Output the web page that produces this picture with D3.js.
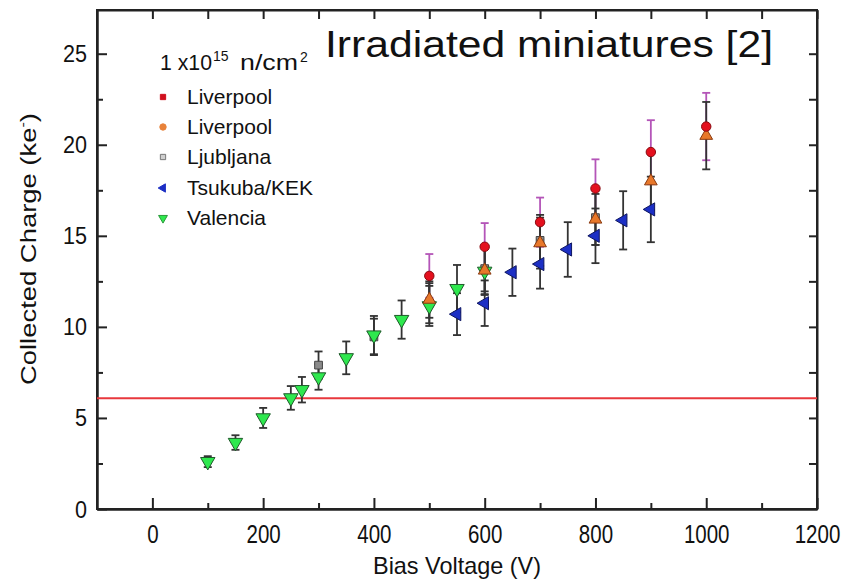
<!DOCTYPE html>
<html>
<head>
<meta charset="utf-8">
<script src="https://cdn.jsdelivr.net/npm/d3@7"></script>
<style>
  html, body { margin: 0; padding: 0; background: #fff; }
  svg { display: block; }
  text { font-family: "Liberation Sans", Arial, sans-serif; fill: #111; }
</style>
</head>
<body>
<svg id="chart" width="846" height="581"></svg>
<script>
// ---- Data ----
const xMajorTicks = [0, 200, 400, 600, 800, 1000, 1200];
const xMinorTicks = [100, 300, 500, 700, 900, 1100];
const yMajorTicks = [0, 5, 10, 15, 20, 25];
const yMinorTicks = [2.5, 7.5, 12.5, 17.5, 22.5];
const thresholdCharge = 6.08;

// Valencia (green, down triangles)
const valenciaV   = [100, 150, 200, 250, 270, 300, 350, 400, 450, 500, 550, 600];
const valenciaQ   = [2.6, 3.65, 5.0, 6.1, 6.55, 7.25, 8.3, 9.55, 10.4, 11.15, 12.1, 13.05];
const valenciaErr = [0.3, 0.4, 0.55, 0.65, 0.7, 0.7, 0.9, 1.05, 1.05, 1.1, 1.3, 1.3];

// Ljubljana (grey squares)
const ljubljanaV   = [300, 400, 500, 600, 700, 800];
const ljubljanaQ   = [7.9, 9.45, 11.3, 13.2, 14.75, 16.0];
const ljubljanaErr = [0.75, 1.0, 1.1, 1.25, 1.4, 1.5];

// Tsukuba/KEK (blue, left triangles)
const tsukubaV   = [550, 600, 650, 700, 750, 800, 850, 900];
const tsukubaQ   = [10.7, 11.3, 13.0, 13.45, 14.25, 15.0, 15.85, 16.45];
const tsukubaErr = [1.15, 1.25, 1.3, 1.35, 1.5, 1.5, 1.6, 1.8];

// Liverpool (orange)
const liverpoolOV   = [500, 600, 700, 800, 900, 1000];
const liverpoolOQ   = [11.5, 13.1, 14.6, 15.9, 18.0, 20.5];
const liverpoolOErr = [1.0, 1.3, 1.4, 1.4, 1.6, 1.85];

// Liverpool (red, magenta error bars)
const liverpoolRV   = [500, 600, 700, 800, 900, 1000];
const liverpoolRQ   = [12.8, 14.4, 15.75, 17.6, 19.6, 21.0];
const liverpoolRErr = [1.2, 1.3, 1.35, 1.6, 1.75, 1.85];

const legendLabels = ["Liverpool", "Liverpool", "Ljubljana", "Tsukuba/KEK", "Valencia"];

// ---- Layout ----
const svg = d3.select("#chart");
const L = 97, R = 817, T = 10, B = 509;
const x = d3.scaleLinear().domain([-100, 1200]).range([L, R]);
const y = d3.scaleLinear().domain([0, 27.4]).range([B, T]);
const fmt = d3.format("d");

// Axes
const gBottom = svg.append("g").attr("transform", `translate(0,${B})`)
  .call(d3.axisBottom(x).tickValues(xMajorTicks).tickFormat(fmt).tickSizeInner(-11).tickSizeOuter(0));
svg.append("g").attr("transform", `translate(0,${B})`)
  .call(d3.axisBottom(x).tickValues(xMinorTicks).tickSizeInner(-6).tickSizeOuter(0).tickFormat(""));
svg.append("g").attr("transform", `translate(0,${T})`)
  .call(d3.axisTop(x).tickValues(xMajorTicks.concat(xMinorTicks)).tickSizeInner(-9).tickSizeOuter(0).tickFormat(""));
const gLeft = svg.append("g").attr("transform", `translate(${L},0)`)
  .call(d3.axisLeft(y).tickValues(yMajorTicks).tickFormat(fmt).tickSizeInner(-10).tickSizeOuter(0));
svg.append("g").attr("transform", `translate(${L},0)`)
  .call(d3.axisLeft(y).tickValues(yMinorTicks).tickSizeInner(-6).tickSizeOuter(0).tickFormat(""));
svg.append("g").attr("transform", `translate(${R},0)`)
  .call(d3.axisRight(y).tickValues(yMajorTicks.concat(yMinorTicks).filter(v => v > 0)).tickSizeInner(-8).tickSizeOuter(0).tickFormat(""));

svg.selectAll(".domain").attr("stroke", "#222").attr("stroke-width", 2);
svg.selectAll(".tick line").attr("stroke", "#222").attr("stroke-width", 2);

// x tick labels: slightly tall, condensed look (vertical stretch)
gBottom.selectAll(".tick text")
  .attr("y", 34 / 1.25).attr("dy", null)
  .attr("transform", "scale(1,1.25)")
  .attr("font-size", 20.5).attr("fill", "#111")
  .attr("font-family", "Liberation Sans, Arial, sans-serif");
gLeft.selectAll(".tick text")
  .attr("x", -10).attr("y", 8).attr("dy", null)
  .attr("font-size", 23).attr("fill", "#111")
  .attr("font-family", "Liberation Sans, Arial, sans-serif")
  .attr("textLength", d => fmt(d).length * 12)
  .attr("lengthAdjust", "spacingAndGlyphs");

// Frame
svg.append("rect").attr("x", L).attr("y", T).attr("width", R - L).attr("height", B - T)
  .attr("fill", "none").attr("stroke", "#222").attr("stroke-width", 2);

// Threshold line
svg.append("line")
  .attr("x1", x(-100)).attr("x2", x(1200))
  .attr("y1", y(thresholdCharge)).attr("y2", y(thresholdCharge))
  .attr("stroke", "#e8383d").attr("stroke-width", 2);

// ---- Series ----
function seriesData(vs, qs, es) { return vs.map((v, i) => ({ v, q: qs[i], e: es[i] })); }

function drawErrors(data, color) {
  const g = svg.append("g").attr("stroke", color).attr("stroke-width", 1.8).attr("fill", "none");
  data.forEach(d => {
    const cx = x(d.v), y1 = y(d.q + d.e), y2 = y(d.q - d.e);
    g.append("line").attr("x1", cx).attr("x2", cx).attr("y1", y1).attr("y2", y2);
    g.append("line").attr("x1", cx - 4).attr("x2", cx + 4).attr("y1", y1).attr("y2", y1);
    g.append("line").attr("x1", cx - 4).attr("x2", cx + 4).attr("y1", y2).attr("y2", y2);
  });
}

function drawMarkers(data, type, size, rot, fill, stroke) {
  const sym = d3.symbol().type(type).size(size);
  svg.append("g").selectAll("path").data(data).join("path")
    .attr("d", sym)
    .attr("transform", d => `translate(${x(d.v)},${y(d.q)}) rotate(${rot})`)
    .attr("fill", fill).attr("stroke", stroke).attr("stroke-width", 1);
}

const valencia = seriesData(valenciaV, valenciaQ, valenciaErr);
const ljubljana = seriesData(ljubljanaV, ljubljanaQ, ljubljanaErr);
const tsukuba = seriesData(tsukubaV, tsukubaQ, tsukubaErr);
const liverpoolO = seriesData(liverpoolOV, liverpoolOQ, liverpoolOErr);
const liverpoolR = seriesData(liverpoolRV, liverpoolRQ, liverpoolRErr);

drawErrors(liverpoolR, "#b455b8");
drawErrors(valencia, "#333");
drawErrors(ljubljana, "#333");
drawErrors(tsukuba, "#333");
drawErrors(liverpoolO, "#333");

drawMarkers(ljubljana, d3.symbolSquare, 60, 0, "#8a8a8a", "#444");
drawMarkers(valencia, d3.symbolTriangle, 90, 180, "#2ee84e", "#1f5a2a");
drawMarkers(tsukuba, d3.symbolTriangle, 75, -90, "#1c2fc4", "#0e1660");
drawMarkers(liverpoolO, d3.symbolTriangle, 70, 0, "#e8782a", "#8a3a10");
drawMarkers(liverpoolR, d3.symbolCircle, 70, 0, "#e4101e", "#8a0a10");

// ---- Legend ----
const leg = svg.append("g");
leg.append("text").attr("x", 160).attr("y", 70).attr("font-size", 22)
  .attr("textLength", 52).attr("lengthAdjust", "spacingAndGlyphs").text("1 x10");
leg.append("text").attr("x", 213).attr("y", 61).attr("font-size", 14).text("15");
leg.append("text").attr("x", 240).attr("y", 70).attr("font-size", 22)
  .attr("textLength", 58).attr("lengthAdjust", "spacingAndGlyphs").text("n/cm");
leg.append("text").attr("x", 300).attr("y", 62).attr("font-size", 14).text("2");

const legYs = [97, 127, 157, 188, 218];
const legSymbols = [
  { type: d3.symbolSquare, size: 28, rot: 0, fill: "#d0101e", stroke: "#d0101e" },
  { type: d3.symbolCircle, size: 32, rot: 0, fill: "#e8823a", stroke: "#e8823a" },
  { type: d3.symbolSquare, size: 28, rot: 0, fill: "#cfcfcf", stroke: "#777" },
  { type: d3.symbolTriangle, size: 30, rot: -90, fill: "#1c2fc4", stroke: "#1c2fc4" },
  { type: d3.symbolTriangle, size: 34, rot: 180, fill: "#2ee84e", stroke: "#2a9a3a" }
];
legendLabels.forEach((lab, i) => {
  const s = legSymbols[i];
  leg.append("path").attr("d", d3.symbol().type(s.type).size(s.size))
    .attr("transform", `translate(163,${legYs[i]}) rotate(${s.rot})`)
    .attr("fill", s.fill).attr("stroke", s.stroke).attr("stroke-width", 1);
  leg.append("text").attr("x", 187).attr("y", legYs[i] + 7).attr("font-size", 21).text(lab);
});

// ---- Overlay title ----
svg.append("text").attr("x", 325).attr("y", 57)
  .attr("font-family", "Lato, 'Open Sans', sans-serif").attr("font-size", 36)
  .attr("fill", "#000")
  .attr("textLength", 448).attr("lengthAdjust", "spacingAndGlyphs")
  .text("Irradiated miniatures [2]");

// ---- Axis titles ----
svg.append("text").attr("x", (L + R) / 2).attr("y", 574)
  .attr("text-anchor", "middle").attr("font-size", 24)
  .attr("textLength", 168).attr("lengthAdjust", "spacingAndGlyphs")
  .text("Bias Voltage (V)");

const yt = svg.append("text")
  .attr("transform", `translate(36,249) rotate(-90)`)
  .attr("text-anchor", "middle").attr("font-size", 22)
  .attr("textLength", 272).attr("lengthAdjust", "spacingAndGlyphs");
yt.append("tspan").text("Collected Charge (ke");
yt.append("tspan").attr("font-size", 13).attr("dy", -9).text("-");
yt.append("tspan").attr("dy", 9).text(")");
</script>
</body>
</html>
